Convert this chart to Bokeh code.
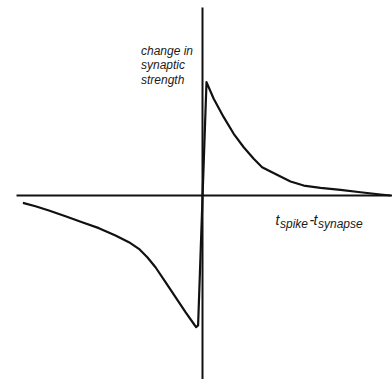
from bokeh.plotting import figure
from bokeh.models import Range1d
from bokeh.core.properties import value
from bokeh.embed import file_html
from bokeh.resources import INLINE

# STDP curve: spike-timing difference (ms) vs change in synaptic strength (%)
t_ms = [-44.9, -41.75, -38.4, -34.25, -30.1, -25.9, -21.75, -18.4, -15.9, -13.8, -11.75,
        -9.25, -6.75, -4.25, -2.2, -1.6, -1.1,
        1.0, 2.8, 5.3, 7.8, 10.3, 12.8, 14.9, 17.0, 19.5, 22.0, 25.3, 29.5, 34.5, 39.5,
        44.5, 47.0]
dw = [-6.5, -9.5, -13.3, -18.3, -23.6, -28.9, -35.4, -41.3, -47.2, -54.6, -63.5,
      -76.7, -90.0, -103.3, -113.5, -116.5, -115.0,
      100.3, 85.6, 69.3, 54.6, 42.7, 32.5, 25.0, 21.2, 16.8, 12.4, 8.8, 6.8, 5.0, 2.9,
      0.9, 0.0]

y_label = ["change in", "synaptic", "strength"]

W, H = 392, 379
# data units: 1 ms = 4 px, 1 % = 1.13 px ; origin at picture (202,195)
OX, OY, SX, SY = 202, 195, 4.0, 1.13
x0 = (0 - OX) / SX
x1 = x0 + W / SX
y1 = OY / SY
y0 = y1 - H / SY

p = figure(width=W, height=H, output_backend="svg", toolbar_location=None,
           x_range=Range1d(x0, x1), y_range=Range1d(y0, y1),
           x_axis_location=None, y_axis_location=None, min_border=0)
p.grid.visible = False
p.outline_line_color = None
p.background_fill_color = "white"
p.border_fill_color = "white"

px = lambda X: (X - OX) / SX
py = lambda Y: (OY - Y) / SY

# axes through origin
p.segment(x0=[px(16), 0], y0=[0, y0], x1=[x1, 0], y1=[0, py(7)],
          line_color="#111111", line_width=2)

# curve
p.line(t_ms, dw, line_color="#111111", line_width=2.2, line_join="round")

# y label (italic, three lines)
p.text(x=[px(140.5)] * 3, y=[py(50), py(64.5), py(79)], text=y_label,
       text_font=value("Liberation Sans"), text_font_style="italic",
       text_font_size="12px", text_color="#1a1a1a", text_baseline="alphabetic",
       text_align="left")

# x label: t_spike - t_synapse
main_parts = ["t", "-", "t"]
main_x = [275, 309, 313]
sub_parts = ["spike", "synapse"]
sub_x = [279.5, 317.5]
p.text(x=[px(v) for v in main_x], y=[py(219.5)] * 3, text=main_parts,
       text_font=value("Liberation Sans"), text_font_style="italic",
       text_font_size="14px", text_color="#1a1a1a", text_baseline="alphabetic")
p.text(x=[px(v) for v in sub_x], y=[py(223.5)] * 2, text=sub_parts,
       text_font=value("Liberation Sans"), text_font_style="italic",
       text_font_size="12px", text_color="#1a1a1a", text_baseline="alphabetic")

open("out.html", "w").write(file_html(p, INLINE))
